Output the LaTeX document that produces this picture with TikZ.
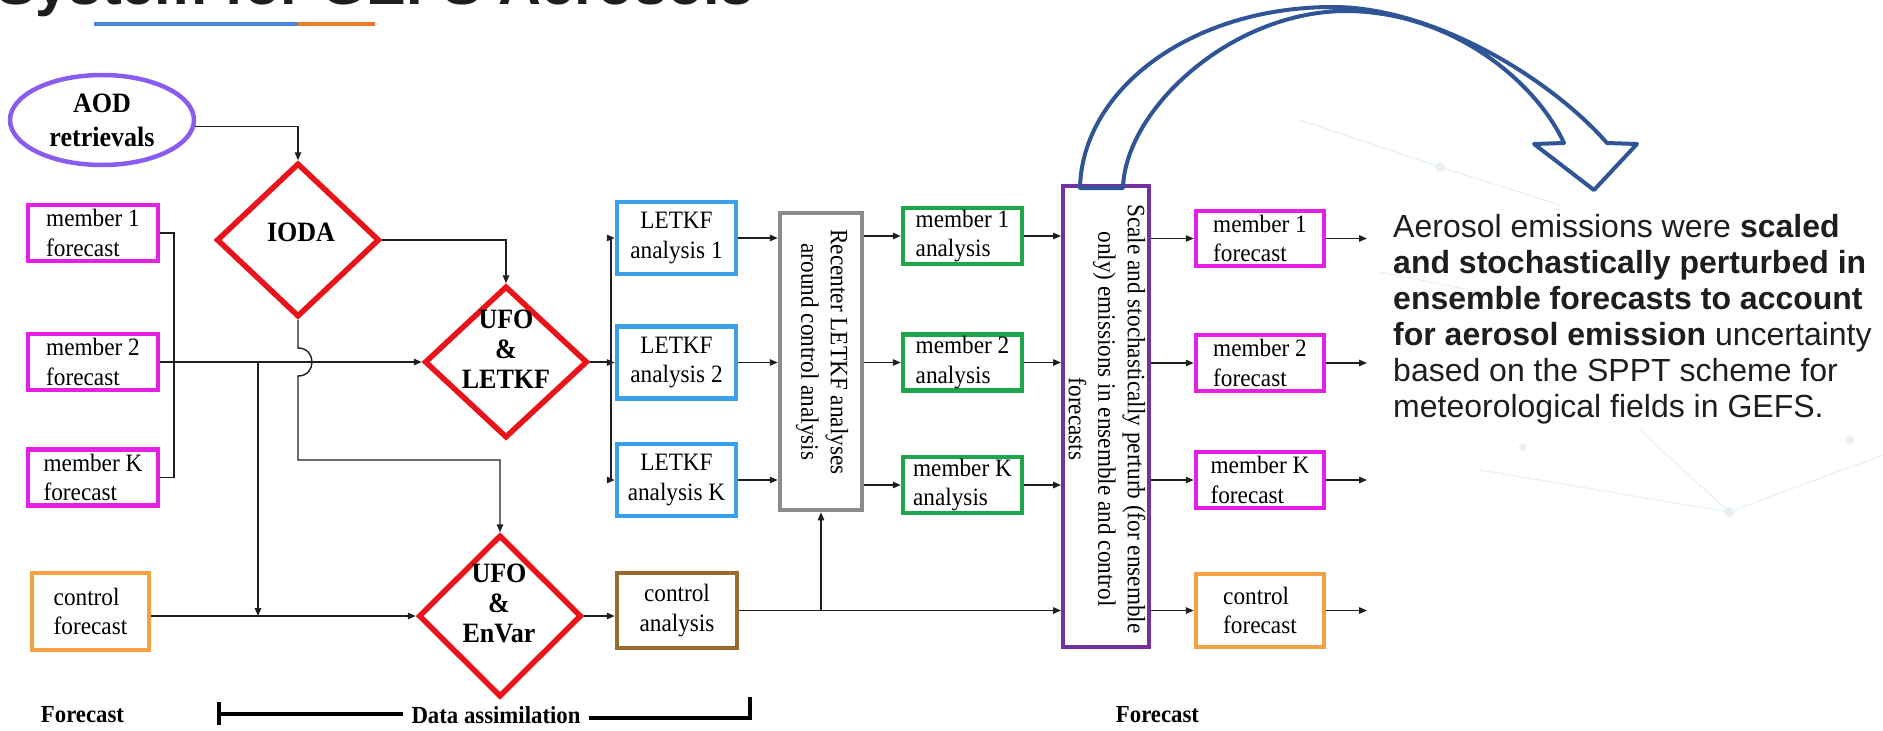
\documentclass[tikz,border=0pt]{standalone}
\usepackage{fontspec}
\setmainfont{Liberation Serif}
\newfontfamily\dfont[FakeStretch=0.93]{Liberation Serif}
\newfontfamily\sfont{Liberation Sans}
\usetikzlibrary{shapes.geometric,arrows.meta,calc}
\definecolor{cAOD}{HTML}{8B5CF0}
\definecolor{cMag}{HTML}{E51FE5}
\definecolor{cRed}{HTML}{E8141A}
\definecolor{cLet}{HTML}{3BA0EA}
\definecolor{cGray}{HTML}{8C8C8C}
\definecolor{cGreen}{HTML}{1DA64A}
\definecolor{cBrown}{HTML}{9A6A2A}
\definecolor{cOrange}{HTML}{F5A043}
\definecolor{cPurple}{HTML}{7232A2}
\definecolor{cNavy}{HTML}{2F5597}
\definecolor{cUBlue}{HTML}{4A86D8}
\definecolor{cUOrange}{HTML}{F27A26}
\definecolor{cText}{HTML}{1E1E1E}
\definecolor{cFaint}{HTML}{E8F0F8}
\newcommand\dreg{\dfont\fontsize{25pt}{29.5pt}\selectfont}
\newcommand\dbold{\dfont\bfseries\fontsize{28pt}{30pt}\selectfont}
\newcommand\dlab{\dfont\bfseries\fontsize{24.5pt}{28pt}\selectfont}
\tikzset{
  conn/.style={draw=black!88, line width=1.4pt},
  arr/.style={conn, -{Triangle[length=8pt,width=6.5pt]}},
  box/.style={rectangle, draw, line width=4.5pt, inner sep=0pt, font=\dreg, text=black},
  magbox/.style={box, draw=cMag, minimum width=130pt, minimum height=56pt, align=left},
  orbox/.style={box, draw=cOrange, align=left},
  letbox/.style={box, draw=cLet, minimum width=119pt, minimum height=72pt, align=center},
  grbox/.style={box, draw=cGreen, minimum width=119pt, minimum height=56pt, align=left},
  dia/.style={diamond, draw=cRed, line width=5.5pt, inner sep=0pt, minimum width=163pt},
  dtxt/.style={font=\dbold, align=center, inner sep=0pt},
  rottxt/.style={font=\dreg, align=center, inner sep=0pt, rotate=-90},
  lab/.style={font=\dlab, inner sep=0pt},
  brk/.style={draw=black, line width=3.5pt},
  faint/.style={draw=cFaint, line width=1.2pt},
}
\begin{document}
\begin{tikzpicture}[x=1pt,y=-1pt]
\useasboundingbox (0,0) rectangle (1883,731);
\clip (0,0) rectangle (1883,731);
% faint background network
\draw[faint] (1440,167) -- (1300,120);
\draw[faint] (1440,167) -- (1560,205);
\draw[faint] (1480,470) -- (1729,512) -- (1883,455);
\draw[faint] (1729,512) -- (1640,430);
\draw[faint] (1380,272) -- (1520,300);
\fill[cFaint] (1440,167) circle (5);
\fill[cFaint] (1729,512) circle (5);
\fill[cFaint] (1523,447) circle (4);
\fill[cFaint] (1850,440) circle (4);
% title fragment
\node[anchor=base west, inner sep=0pt, font=\sfont\bfseries\fontsize{59.5pt}{60pt}\selectfont, text=cText] (ttl) at (-4,4) {System for GEFS Aerosols};
\draw[line width=4pt, cUBlue] (94,24) -- (298,24);
\draw[line width=4pt, cUOrange] (298,24) -- (375,24);

% AOD
\node[ellipse, draw=cAOD, line width=4.5pt, minimum width=184pt, minimum height=90pt, inner sep=0pt, font=\dfont\bfseries\fontsize{28pt}{34pt}\selectfont, align=center] (aod) at (102,120) {AOD\\retrievals};

% diamonds
\node[dia, minimum height=154pt] (ioda) at (298,240) {};
\node[dtxt] (iodat) at (301,232) {IODA};
\node[dia, minimum height=152pt] (ufol) at (506,362) {};
\node[dtxt] (ufolt) at (506,349) {UFO\\\&\\LETKF};
\node[dia, minimum height=162pt] (envar) at (500,616) {};
\node[dtxt] (envart) at (499,603) {UFO\\\&\\EnVar};

% left forecasts
\node[magbox] (m1) at (93,233) {member 1\\forecast};
\node[magbox] (m2) at (93,362) {member 2\\forecast};
\node[magbox] (mK) at (93,477.5) {member K\\forecast};
\node[orbox, minimum width=117pt, minimum height=77pt] (cf) at (90.5,611.5) {control\\forecast};

% LETKF analyses
\node[letbox] (la1) at (676.5,238) {LETKF\\analysis 1};
\node[letbox] (la2) at (676.5,362.5) {LETKF\\analysis 2};
\node[letbox] (laK) at (676.5,480) {LETKF\\analysis K};
\node[box, draw=cBrown, minimum width=120pt, minimum height=75pt, align=center] (ca) at (677,610.5) {control\\analysis};

% recenter
\node[box, draw=cGray, minimum width=82pt, minimum height=297pt] (rc) at (821,361.5) {};
\node[rottxt] (rct) at (822,352) {Recenter LETKF analyses\\around control analysis};

% member analyses
\node[grbox] (g1) at (962.5,236) {member 1\\analysis};
\node[grbox] (g2) at (962.5,362.5) {member 2\\analysis};
\node[grbox] (gK) at (962.5,485) {member K\\analysis};

% purple
\node[box, draw=cPurple, line width=4pt, minimum width=86pt, minimum height=461pt] (pp) at (1106,416.5) {};
\node[rottxt] (ppt) at (1107,419) {Scale and stochastically perturb (for ensemble\\only) emissions in ensemble and control\\forecasts};

% right forecasts
\node[magbox, minimum width=128pt, minimum height=55pt] (r1) at (1260,238.5) {member 1\\forecast};
\node[magbox, minimum width=128pt] (r2) at (1260,363) {member 2\\forecast};
\node[magbox, minimum width=128pt] (rK) at (1260,480) {member K\\forecast};
\node[orbox, minimum width=128pt, minimum height=73pt] (rc2) at (1260,610.5) {control\\forecast};

% labels
\node[lab] (fl) at (82.5,715) {Forecast};
\node[lab] (fr) at (1157.5,715) {Forecast};
\node[lab, inner xsep=8pt] (da) at (496,714.7) {Data assimilation};
\coordinate (dl) at (219,714);
\coordinate (dr) at (750,718);
\draw[brk] (dl) -- (da.west |- dl);
\draw[brk] (da.east |- dr) -- (dr);
\draw[brk] (219,702) -- (219,725);
\draw[brk] (750,697) -- (750,719.75);

% connectors
\draw[arr] (aod.-4) -| (ioda.north);
\draw[arr] (ioda.east) -| (ufol.north);
\coordinate (brk) at (174,300);
\draw[conn] (m1.east) -| (brk) |- (mK.east);
\draw[arr] (m2.east) -- (ufol.west);
\coordinate (j1) at (258,362);
\draw[arr] (j1) -- (j1 |- envar.west);
\draw[arr] (cf.east |- envar.west) -- (envar.west);
\coordinate (jA) at (298,348);
\coordinate (jB) at (298,376);
\coordinate (jC) at (298,460);
\draw[arr] (ioda.south) -- (jA) .. controls (316.7,348) and (316.7,376) .. (jB) -- (jC) -| (envar.north);
\coordinate (bx) at (611,362);
\draw[conn] (ufol.east) -- (bx);
\draw[conn] (bx |- la1.west) -- (bx |- laK.west);
\draw[arr] (bx |- la1.west) -- (la1.west);
\draw[arr] (bx |- la2.west) -- (la2.west);
\draw[arr] (bx |- laK.west) -- (laK.west);
\draw[arr] (la1.east) -- (la1.east -| rc.west);
\draw[arr] (la2.east) -- (la2.east -| rc.west);
\draw[arr] (laK.east) -- (laK.east -| rc.west);
\draw[arr] (envar.east) -- (envar.east -| ca.west);
\draw[arr] (ca.east) -- (ca.east -| pp.west);
\draw[arr] (ca.east -| rc.south) -- (rc.south);
\draw[arr] (g1.west -| rc.east) -- (g1.west);
\draw[arr] (g2.west -| rc.east) -- (g2.west);
\draw[arr] (gK.west -| rc.east) -- (gK.west);
\draw[arr] (g1.east) -- (g1.east -| pp.west);
\draw[arr] (g2.east) -- (g2.east -| pp.west);
\draw[arr] (gK.east) -- (gK.east -| pp.west);
\draw[arr] (r1.west -| pp.east) -- (r1.west);
\draw[arr] (r2.west -| pp.east) -- (r2.west);
\draw[arr] (rK.west -| pp.east) -- (rK.west);
\draw[arr] (rc2.west -| pp.east) -- (rc2.west);
\coordinate (oX) at (1367,0);
\draw[arr] (r1.east) -- (r1.east -| oX);
\draw[arr] (r2.east) -- (r2.east -| oX);
\draw[arr] (rK.east) -- (rK.east -| oX);
\draw[arr] (rc2.east) -- (rc2.east -| oX);

% curved block arrow
\draw[cNavy, line width=4pt, line join=round] (1080,188) .. controls (1082,90) and (1190,7) .. (1333,7)
  .. controls (1430,7) and (1547,75) .. (1607,143) -- (1637,144) -- (1594,190) -- (1534,144) -- (1564,143)
  .. controls (1535,80) and (1450,11) .. (1345,11) .. controls (1230,12) and (1125,110) .. (1123,188) -- cycle;

% note
\node[anchor=north west, inner sep=0pt, align=left, text=cText, font=\sfont\fontsize{32pt}{36pt}\selectfont] (note) at (1393,214) {Aerosol emissions were \textbf{scaled}\\\textbf{and stochastically perturbed in}\\\textbf{ensemble forecasts to account}\\\textbf{for aerosol emission} uncertainty\\based on the SPPT scheme for\\meteorological fields in GEFS.};
\end{tikzpicture}
\end{document}
